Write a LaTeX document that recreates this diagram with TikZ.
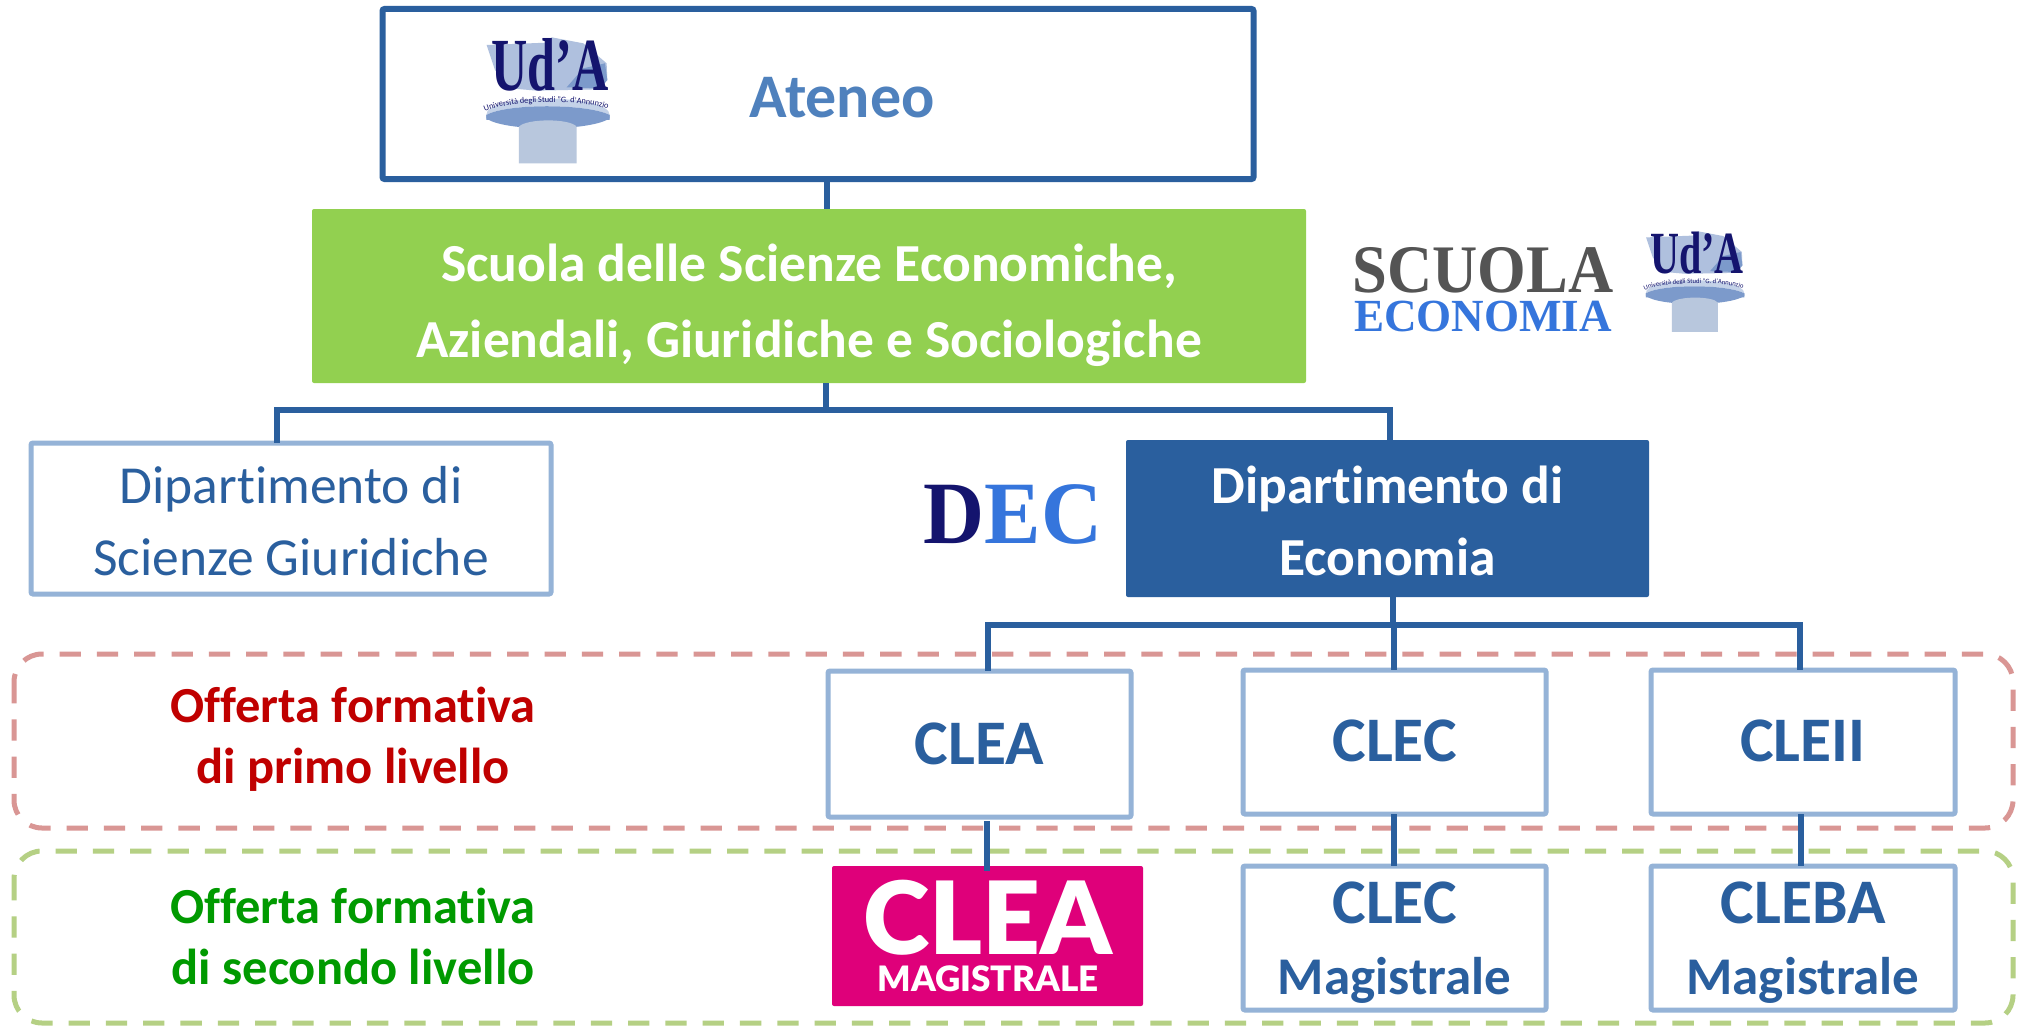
\documentclass[tikz,border=0pt]{standalone}
\usepackage{fontspec}
\setmainfont{Carlito}[Ligatures=NoCommon]
\newfontfamily\lserif{Liberation Serif}
\newfontfamily\llato{Lato Black}
\usetikzlibrary{decorations.text}
\definecolor{dkblue}{HTML}{2A5F9E}
\definecolor{ltblue}{HTML}{95B3D7}
\definecolor{midblue}{HTML}{4F81BD}
\definecolor{grfill}{HTML}{92D050}
\definecolor{dashred}{HTML}{D99694}
\definecolor{dashgreen}{HTML}{B5D084}
\definecolor{navy}{HTML}{14146E}
\definecolor{pinkbox}{HTML}{DF007A}
\definecolor{lgA}{HTML}{AFC0DE}
\definecolor{lgB}{HTML}{7C9ACB}
\definecolor{lgC}{HTML}{B8C7DD}
\definecolor{offred}{HTML}{C00000}
\definecolor{offgreen}{HTML}{009A00}
\definecolor{logoblue}{HTML}{3575DC}
\tikzset{
  bx/.style={rectangle,outer sep=0pt,inner sep=0pt,rounded corners=2pt,align=center},
  ateneobox/.style={bx,draw=dkblue,line width=6pt,fill=white},
  lightbox/.style={bx,draw=ltblue,line width=5pt,fill=white,text=dkblue},
  conn/.style={draw=dkblue,line width=6pt},
  dashzone/.style={line width=5pt,rounded corners=28pt,dash pattern=on 21.3pt off 16pt},
  lbl/.style={align=center,inner sep=0pt,outer sep=0pt},
  dept/.style={font=\fontsize{53.5}{72}\selectfont},
  course/.style={font=\fontsize{63.5}{62}\selectfont\bfseries},
  mag/.style={font=\fontsize{53}{76}\selectfont\bfseries},
  offer/.style={lbl,font=\fontsize{50.5}{61}\selectfont\bfseries},
}
\newcommand{\udalogo}[3]{%
\begin{scope}[shift={(#1,#2)},x=#3pt,y=-#3pt]
  \pgfmathsetmacro{\lgs}{2.25*#3}
  \pgfmathsetmacro{\lgf}{25*#3}
  \fill[lgA] (350,135) -- (530,128) -- (545,112) -- (640,130) -- (710,190) -- (712,240) -- (690,268) -- (500,272) -- (420,265) -- (375,210) -- cycle;
  \fill[lgB] (640,205) -- (705,190) -- (712,240) -- (690,265) -- (590,262) -- cycle;
  \fill[lgB] (349,345) -- (349,355) .. controls (400,395) and (660,395) .. (719,355) -- (719,345) -- cycle;
  \fill[lgB!45] (349,345) .. controls (345,280) and (720,280) .. (719,345) .. controls (650,310) and (410,310) .. (349,345) -- cycle;
  \fill[lgB] (349,345) .. controls (410,310) and (650,310) .. (719,345) -- (719,360) -- (349,360) -- cycle;
  \fill[lgC] (447,490) -- (447,380) .. controls (470,355) and (600,355) .. (620,380) -- (620,490) -- cycle;
  \node[scale=\lgs,xscale=.67,inner sep=0pt,text=navy,font=\lserif\fontsize{100}{100}\selectfont\bfseries] (#1lgtxt) at (541,195) {Ud’A};
  \path[decorate,decoration={text along path,text align=center,
     text={|\fontsize{\lgf}{\lgf}\selectfont\color{navy}|Università degli Studi "G. d'Annunzio"}}]
     (356,330) .. controls (440,300) and (630,300) .. (712,326);
\end{scope}}
\newcommand{\twolines}[3]{\raisebox{#1}[\height][\depth]{\begin{tabular}{@{}c@{}}#2\\#3\end{tabular}}}
\newcommand{\magtext}[1]{\raisebox{-12pt}[60pt][60pt]{\begin{tabular}{@{}c@{}}\fontsize{63.5}{62}\selectfont #1\\[-5pt]\fontsize{53}{70}\selectfont Magistrale\end{tabular}}}
\begin{document}
\begin{tikzpicture}[x=1pt,y=-1pt]
\useasboundingbox (0,0) rectangle (2020,1025);
\fill[white] (0,0) rectangle (2020,1025);

% dashed zones
\draw[dashzone,draw=dashred] (14,654) rectangle (2013,828);
\draw[dashzone,draw=dashgreen] (14,851) rectangle (2013,1023);

% routing coordinates
\coordinate (tA) at (827,0);
\coordinate (tB) at (826,410);
\coordinate (tBl) at (277,410);
\coordinate (tBr) at (1390,410);
\coordinate (tC) at (1393,625);
\coordinate (tCl) at (988,625);
\coordinate (tCm) at (1394,625);
\coordinate (tCr) at (1800,625);
\coordinate (tD) at (987,0);
\coordinate (tE) at (1394,0);
\coordinate (tF) at (1801,0);

% boxes
\node[ateneobox,minimum width=871pt,minimum height=170pt] (ateneo) at (818,94) {};
\node[bx,fill=grfill,text=white,minimum width=994pt,minimum height=174pt,font=\fontsize{53.5}{76}\selectfont\bfseries] (scuola) at (809,296) {\twolines{-8pt}{Scuola delle Scienze Economiche,}{Aziendali, Giuridiche e Sociologiche}};
\node[lightbox,dept,minimum width=520pt,minimum height=151pt] (giur) at (291,518.5) {\twolines{-7pt}{Dipartimento di}{Scienze Giuridiche}};
\node[bx,dept,fill=dkblue,text=white,minimum width=523pt,minimum height=157pt,font=\fontsize{53.5}{72}\selectfont\bfseries] (eco) at (1387.5,518.5) {\twolines{-7pt}{Dipartimento di}{Economia}};

\node[lightbox,course,minimum width=303pt,minimum height=146pt] (clea) at (979.5,744) {CLEA};
\node[lightbox,course,minimum width=303pt,minimum height=144pt] (clec) at (1394.5,742) {\raisebox{1pt}[\height][\depth]{CLEC}};
\node[lightbox,course,minimum width=304pt,minimum height=144pt] (cleii) at (1803,742) {\raisebox{1pt}[\height][\depth]{CLEII}};
\node[bx,fill=pinkbox,minimum width=311pt,minimum height=140pt] (cleam) at (987.5,936) {};
\node[lightbox,mag,minimum width=303pt,minimum height=144pt] (clecm) at (1394.5,938) {\magtext{CLEC}};
\node[lightbox,mag,minimum width=304pt,minimum height=144pt] (clebam) at (1803,938) {\magtext{CLEBA}};

% connectors
\draw[conn] (ateneo.south -| tA) -- (scuola.north -| tA);
\draw[conn] (scuola.south -| tB) -- (tB);
\draw[conn,line cap=rect] (tBl) -- (tBr);
\draw[conn] (tBl) -- (giur.north -| tBl);
\draw[conn] (tBr) -- (eco.north -| tBr);
\draw[conn] (eco.south -| tC) -- (tC);
\draw[conn,line cap=rect] (tCl) -- (tCr);
\draw[conn] (tCl) -- (clea.north -| tCl);
\draw[conn] (tCm) -- (clec.north -| tCm);
\draw[conn] (tCr) -- (cleii.north -| tCr);
\draw[conn] ([yshift=-4pt]clea.south -| tD) -- ([yshift=-5pt]cleam.north -| tD);
\draw[conn] (clec.south -| tE) -- (clecm.north -| tE);
\draw[conn] (cleii.south -| tF) -- (clebam.north -| tF);

% texts
\node[lbl,text=midblue,font=\fontsize{62}{60}\selectfont\bfseries] (ateneotxt) at (842,98) {Ateneo};
\node[offer,text=offred] (off1) at (353,739) {Offerta formativa\\di primo livello};
\node[offer,text=offgreen] (off2) at (353,936) {Offerta formativa\\di secondo livello};

% pink logo
\node[lbl,text=white,font=\llato\fontsize{101}{101}\selectfont] (cleamA) at (988,918) {CLEA};
\node[lbl,text=white,font=\llato\fontsize{35}{35}\selectfont] (cleamB) at (988,979) {MAGISTRALE};

% logos
\udalogo{370}{0}{0.3333}
\udalogo{1553}{201.5}{0.266}
\node[lbl,text=black!67,xscale=.92,font=\lserif\fontsize{68}{68}\selectfont\bfseries] (sc1) at (1483,270) {SCUOLA};
\node[lbl,text=logoblue,xscale=.98,font=\lserif\fontsize{46}{46}\selectfont\bfseries] (sc2) at (1483,316) {ECONOMIA};
\node[lbl,xscale=.95,font=\lserif\fontsize{89}{89}\selectfont\bfseries] (dec) at (1013,514) {\textcolor{navy}{D}\textcolor{logoblue}{EC}};
\end{tikzpicture}
\end{document}
